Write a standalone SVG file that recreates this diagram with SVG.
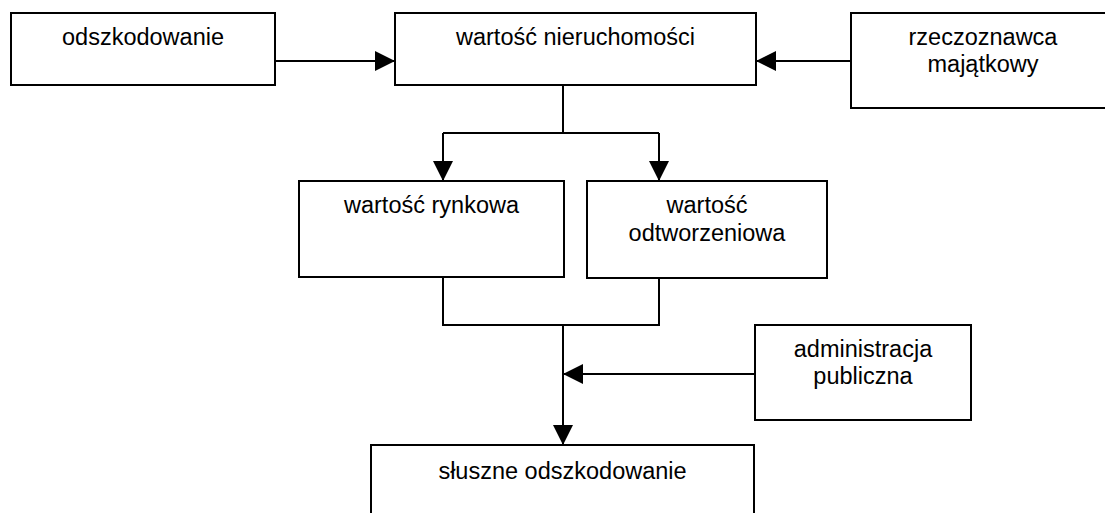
<svg xmlns="http://www.w3.org/2000/svg" width="1105" height="513" viewBox="0 0 1105 513">
<style>
.box{fill:#fff;stroke:#000;stroke-width:2}
.t{font-family:"Liberation Sans",Arial,sans-serif;font-size:23.5px;fill:#000;text-anchor:middle}
.c{fill:none;stroke:#000;stroke-width:2}
</style>
<defs>
<marker id="ah" markerUnits="userSpaceOnUse" markerWidth="20" markerHeight="20" refX="20" refY="10" orient="auto" viewBox="0 0 20 20">
<path d="M0,0 L20,10 L0,20 z" fill="#000"/>
</marker>
</defs>
<rect width="1105" height="513" fill="#fff"/>
<g id="connectors">
<path class="c" d="M275,61 H395" marker-end="url(#ah)"/>
<path class="c" d="M851,61 H756" marker-end="url(#ah)"/>
<path class="c" d="M563,85 V133 M443,133 H659"/>
<path class="c" d="M443,133 V181" marker-end="url(#ah)"/>
<path class="c" d="M659,133 V181" marker-end="url(#ah)"/>
<path class="c" d="M443,277 V325 H659 V278"/>
<path class="c" d="M563,325 V445" marker-end="url(#ah)"/>
<path class="c" d="M755,374 H563" marker-end="url(#ah)"/>
</g>
<g id="odszkodowanie">
<rect class="box" x="11" y="13" width="264" height="72"/>
<text class="t" x="143" y="45">odszkodowanie</text>
</g>
<g id="wartosc-nieruchomosci">
<rect class="box" x="395" y="13" width="361" height="72"/>
<text class="t" x="575.5" y="45">wartość nieruchomości</text>
</g>
<g id="rzeczoznawca">
<rect class="box" x="851" y="13" width="264" height="95"/>
<text class="t" x="983" y="45">rzeczoznawca</text>
<text class="t" x="983" y="72">majątkowy</text>
</g>
<g id="wartosc-rynkowa">
<rect class="box" x="299" y="181" width="265" height="96"/>
<text class="t" x="431.5" y="213">wartość rynkowa</text>
</g>
<g id="wartosc-odtworzeniowa">
<rect class="box" x="587" y="181" width="240" height="97"/>
<text class="t" x="707" y="213">wartość</text>
<text class="t" x="707" y="241">odtworzeniowa</text>
</g>
<g id="administracja">
<rect class="box" x="755" y="325" width="216" height="95"/>
<text class="t" x="863" y="357">administracja</text>
<text class="t" x="863" y="384">publiczna</text>
</g>
<g id="sluszne-odszkodowanie">
<rect class="box" x="371" y="445" width="383" height="90"/>
<text class="t" x="562.5" y="479">słuszne odszkodowanie</text>
</g>
</svg>
